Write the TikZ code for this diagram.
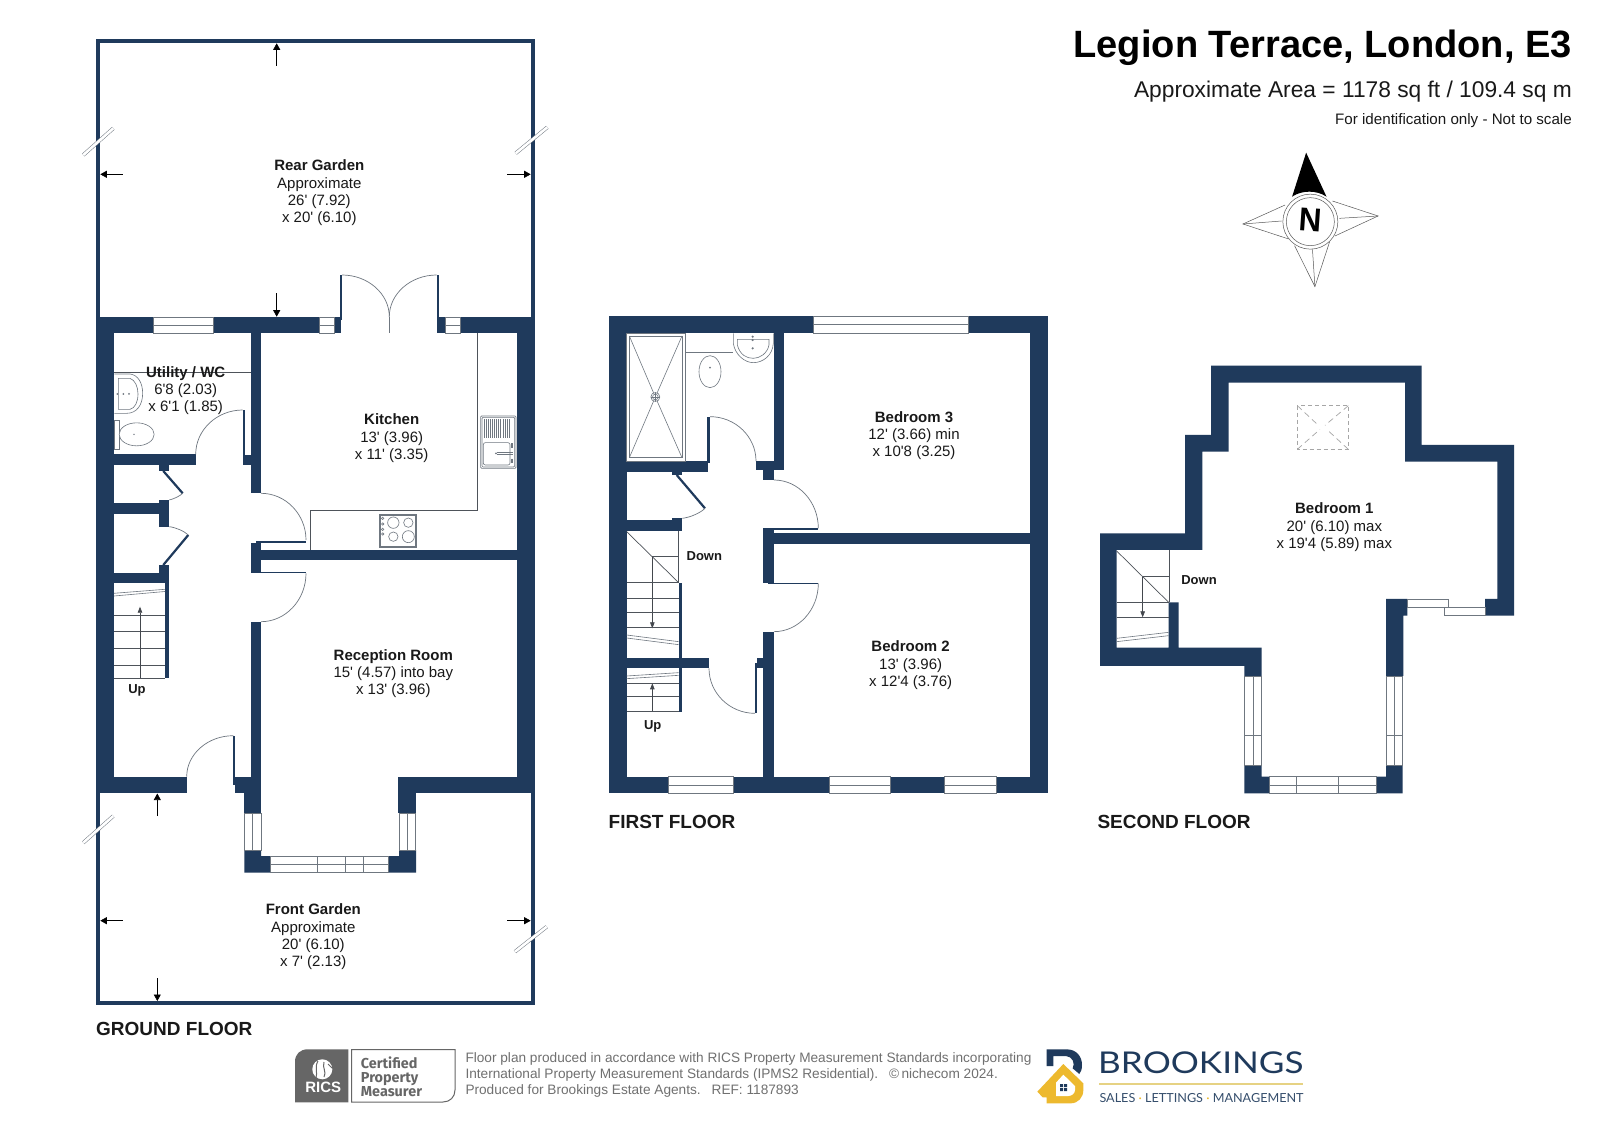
\documentclass[tikz,border=0pt]{standalone}
\usepackage{fontspec}
\setmainfont[Ligatures=TeXOff]{Liberation Sans}
\newfontfamily\ficsfont{Fira Sans}
\newfontfamily\brandfont{Lato}
\usetikzlibrary{calc,arrows.meta}
\definecolor{navy}{HTML}{1F3A5C}
\definecolor{fixgrey}{HTML}{6F7780}
\definecolor{gold}{HTML}{EDB92E}
\definecolor{paleg}{HTML}{E6D283}
\definecolor{footg}{HTML}{707070}
\definecolor{ricsg}{HTML}{666666}
\tikzset{
 wall/.style={fill=navy,draw=none},
 winframe/.style={fill=white,draw=fixgrey,line width=.7pt},
 winline/.style={draw=fixgrey,line width=.7pt},
 doorarc/.style={draw=fixgrey,line width=.7pt},
 fixture/.style={draw=fixgrey,line width=.6pt},
 thinline/.style={draw=fixgrey!70!black,line width=.7pt},
 leafthick/.style={draw=navy,line width=2.2pt},
 gardenwall/.style={draw=navy,line width=4pt,line join=miter},
 breakmark/.style={draw=fixgrey,double=white,double distance=2.6pt,line width=.5pt},
 dimarrow/.style={draw=black,line width=.6pt,-{Triangle[length=6.5pt,width=7pt]}},
 stairarrow/.style={draw=fixgrey!60!black,line width=.7pt,-{Triangle[length=6pt,width=4.5pt]}},
 roomlabel/.style={align=center,inner sep=0pt,yshift=-1.2pt,text=black!90,font=\fontsize{15}{17.3}\selectfont},
 updown/.style={inner sep=0pt,yshift=-.5pt,text=black!90,font=\fontsize{13}{15}\selectfont\bfseries},
 floorlabel/.style={inner sep=0pt,anchor=west,text=black!90,font=\fontsize{19}{22}\selectfont\bfseries},
}
\newcommand{\qdoor}[3]{\draw[doorarc] (#1) .. controls ($(#1)!.55!(#3)$) and ($(#2)!.55!(#3)$) .. (#2);}
\newcommand{\wrect}[2]{\fill[wall] (#1) rectangle (#2);}
\begin{document}
\begin{tikzpicture}[x=1pt,y=-1pt]
\useasboundingbox (0,0) rectangle (1599,1131);
\fill[white] (0,0) rectangle (1599,1131);

% ===== GROUND FLOOR =====
\draw[gardenwall] (98,317) -- (98,41.3) -- (532.7,41.3) -- (532.7,317);
\draw[gardenwall] (98,793) -- (98,1003) -- (532.7,1003) -- (532.7,793);
\draw[breakmark] (83.3,155) -- (113.3,128.3);
\draw[breakmark] (515.7,153.3) -- (547.3,127.3);
\draw[breakmark] (83.3,842.7) -- (113.3,816);
\draw[breakmark] (515,951.7) -- (546.7,926.7);
\wrect{96,316.7}{153.3,333.3}
\wrect{213.3,316.7}{319,333.3}
\wrect{334,316.7}{340.7,333.3}
\wrect{437.3,316.7}{445,333.3}
\wrect{460,316.7}{534.7,333.3}
\wrect{96,333}{114,793.3}
\wrect{96,776.7}{186.7,793.3}
\wrect{516.7,333}{534.7,793.3}
\wrect{398.3,776.7}{534.7,793.3}
\wrect{398.3,793}{416,813.3}
\wrect{251,333}{261,493.3}
\wrect{114,454.3}{195.7,465}
\wrect{243,455}{251,465}
\wrect{242.7,410}{245,460}
\wrect{159,465}{169.3,471}
\wrect{114,503.3}{169.3,514.3}
\wrect{159,500}{169.3,526.7}
\wrect{159,565}{169.3,583.3}
\wrect{114,572.7}{169.3,583.3}
\wrect{165,583}{169.3,678.3}
\draw[leafthick] (163.3,471) -- (182.7,493.3);
\draw[leafthick] (188.3,535) -- (163.3,565);
\qdoor{182.7,493.3}{169.3,500}{178,498}
\qdoor{188.3,535}{169.3,526.7}{181,528}
\qdoor{195.7,454.3}{242.7,410}{195.7,410}
\wrect{251,542.7}{261,573.3}
\wrect{251,550}{516.7,560}
\wrect{256,540.7}{306,542.7}
\wrect{261,572}{306,573.3}
\qdoor{261,493.3}{306,540}{306,493.3}
\qdoor{306,573.3}{261,621.7}{306,621.7}
\wrect{251,621.7}{261,793.3}
\wrect{235,776.7}{261,793.3}
\wrect{244.3,793}{261,813.3}
\wrect{233.3,735.7}{235.3,785}
\qdoor{186.7,776.7}{233.3,735.7}{186.7,735.7}
% French doors
\wrect{340,275}{342,320}
\wrect{436.7,275}{438.7,320}
\qdoor{342,275}{389.3,316.7}{389.3,275}
\qdoor{436.7,275}{389.3,316.7}{389.3,275}
\draw[doorarc] (389.3,316.7) -- (389.3,333);
% bay
\fill[wall] (244.3,850) -- (261,850) -- (261,856) -- (270,856) -- (270,872.7) -- (244.3,872.7) -- cycle;
\fill[wall] (416,850) -- (399,850) -- (399,856) -- (388.3,856) -- (388.3,872.7) -- (416,872.7) -- cycle;
% windows
\draw[winframe] (153.3,317) rectangle (213.3,333);
\draw[winline] (153.3,325) -- (213.3,325);
\draw[winframe] (319,317) rectangle (334,333);
\draw[winline] (319,325) -- (334,325);
\draw[winframe] (445,317) rectangle (460,333);
\draw[winline] (445,325) -- (460,325);
\draw[winframe] (244.3,813.3) rectangle (261,850);
\draw[winline] (252.7,813.3) -- (252.7,850);
\draw[winframe] (399.3,813.3) rectangle (415.3,850);
\draw[winline] (407.7,813.3) -- (407.7,850);
\draw[winframe] (270,856) rectangle (388.3,872.7);
\draw[winline] (270,864.7) -- (388.3,864.7);
\foreach \vx in {317.3,345.7,363.3} {\draw[winline] (\vx,856) -- (\vx,872.7);}
% stairs
\foreach \ty in {615,631.7,648.3,665,678.3} {\draw[thinline] (114,\ty) -- (165,\ty);}
\draw[stairarrow] (140,678.3) -- (140,606.7);
\draw[fixture] (114,593.3) -- (165,589.3);
\draw[fixture] (114,596) -- (165,591.5);
% dimension arrows
\draw[dimarrow] (276.7,66) -- (276.7,43.3);
\draw[dimarrow] (276.7,293.3) -- (276.7,316.7);
\draw[dimarrow] (122.7,174.3) -- (100.3,174.3);
\draw[dimarrow] (507.3,174.3) -- (530.7,174.3);
\draw[dimarrow] (157.3,816) -- (157.3,793.5);
\draw[dimarrow] (157.3,978) -- (157.3,1001);
\draw[dimarrow] (122.7,920.7) -- (100.3,920.7);
\draw[dimarrow] (507.3,920.7) -- (530.7,920.7);
% kitchen units
\draw[thinline] (477.3,333) -- (477.3,510.7) -- (310.7,510.7) -- (310.7,550);
\draw[thinline] (114,372.3) -- (251,372.3);
\begin{scope}[x=.33333pt,y=-.33333pt,shift={(80pt,-300pt)}]
 % utility basin
 \draw[fixture,fill=white] (103,222) -- (150,222) .. controls (175,225) and (188,250) .. (188,280) .. controls (188,315) and (170,340) .. (140,340) -- (103,340);
 \draw[fixture] (115,235) -- (150,235) .. controls (165,240) and (174,260) .. (174,282) .. controls (174,305) and (165,325) .. (150,328) -- (115,328) -- cycle;
 \foreach \dx in {112,130,147} {\fill[fixgrey] (\dx,282) circle[radius=1pt];}
 % WC
 \draw[fixture,fill=white] (103,362) rectangle (118,447);
 \draw[fixture,fill=white] (170,403) ellipse[x radius=17.5pt,y radius=11.5pt];
 \fill[fixgrey] (162,403) circle[radius=.8pt];
 % sink
 \draw[fixture,rounded corners=1pt] (1202,348) rectangle (1308,505);
 \draw[fixture,rounded corners=1pt] (1206,352) rectangle (1304,501);
 \foreach \hx in {1212,1218,1224,1230,1237,1243,1250,1256,1262,1269,1276,1282,1288} {\draw[fixture] (\hx,358) -- (\hx,415);}
 \draw[fixture,rounded corners=2pt] (1210,428) rectangle (1290,495);
 \draw[fixture] (1250,458) -- (1298,458) (1250,464) -- (1298,464);
 \fill[fixgrey] (1248,460) circle[radius=1pt];
 \draw[fixture] (1293,430) -- (1293,445) (1296,430) -- (1296,445) (1293,476) -- (1293,490) (1296,476) -- (1296,490);
 % hob
 \draw[fixture] (898,643) rectangle (1010,742);
 \draw[fixture] (902,647) rectangle (1006,738);
 \draw[fixture] (940,668) circle[radius=5.7pt];
 \draw[fixture] (985,668) circle[radius=4.7pt];
 \draw[fixture] (940,710) circle[radius=4.7pt];
 \draw[fixture] (985,710) circle[radius=6pt];
 \foreach \ky in {655,672,688,702} {\draw[fixture] (908,\ky) circle[radius=1.2pt];}
\end{scope}
% labels
\node[roomlabel] (rear) at (319.3,191.7) {\textbf{Rear Garden}\\Approximate\\26' (7.92)\\x 20' (6.10)};
\node[roomlabel] (util) at (185.7,389.5) {\textbf{Utility / WC}\\6'8 (2.03)\\x 6'1 (1.85)};
\node[roomlabel] (kit) at (391.7,437) {\textbf{Kitchen}\\13' (3.96)\\x 11' (3.35)};
\node[roomlabel] (recep) at (393.3,672.3) {\textbf{Reception Room}\\15' (4.57) into bay\\x 13' (3.96)};
\node[roomlabel] (front) at (313.3,935.7) {\textbf{Front Garden}\\Approximate\\20' (6.10)\\x 7' (2.13)};
\node[updown] (upg) at (137,690) {Up};
\node[floorlabel] (gf) at (96,1029) {GROUND FLOOR};

% ===== FIRST FLOOR =====
\begin{scope}[x=.33333pt,y=-.33333pt,shift={(600pt,-300pt)}]
 \wrect{28,48}{1343,100}
 \wrect{28,1430}{1343,1480}
 \wrect{28,48}{80,1480}
 \wrect{1291,48}{1343,1480}
 \wrect{522,100}{553,510}
 \wrect{468,483}{553,510}
 \wrect{490,483}{522,540}
 \wrect{80,483}{323,515}
 \wrect{320,350}{330,490}
 \wrect{215,510}{247,525}
 \wrect{80,660}{247,692}
 \wrect{215,655}{247,692}
 \wrect{490,685}{522,850}
 \wrect{505,683}{655,690}
 \wrect{522,700}{1291,732}
 \wrect{505,848}{655,853}
 \wrect{490,995}{522,1430}
 \wrect{470,1075}{522,1105}
 \wrect{465,1090}{472,1240}
 \wrect{80,1075}{327,1105}
 \wrect{236,848}{247,1235}
 \draw[leafthick] (230,525) -- (315,625);
 \qdoor{315,625}{247,655}{290,650}
 \qdoor{330,350}{468,483}{468,350}
 \qdoor{522,540}{655,685}{655,540}
 \qdoor{655,850}{522,995}{655,995}
 \qdoor{327,1105}{465,1240}{327,1240}
 % bathroom fittings
 \draw[fixture] (80,100) rectangle (255,483);
 \draw[fixture] (88,108) rectangle (246,473);
 \draw[fixture] (88,108) -- (166,291) -- (246,108);
 \draw[fixture] (88,473) -- (166,291) -- (246,473);
 \draw[fixture,fill=white] (166,291) circle[radius=4.5pt];
 \draw[fixture] (166,291) circle[radius=2.8pt];
 \draw[fixture] (153,291) -- (179,291) (166,278) -- (166,304);
 \draw[fixture] (257,158) -- (400,158);
 \draw[fixture,fill=white] (330,215) ellipse[x radius=11pt,y radius=16pt];
 \fill[fixgrey] (330,203) circle[radius=1pt];
 \draw[fixture,fill=white] (400,100) -- (400,130) .. controls (405,165) and (435,188) .. (460,188) .. controls (490,188) and (518,165) .. (520,130) -- (520,100);
 \draw[fixture] (412,118) -- (412,135) .. controls (420,165) and (440,175) .. (460,175) .. controls (480,175) and (502,160) .. (507,135) -- (507,118) -- cycle;
 \foreach \ty in {110,120,145} {\fill[fixgrey] (458,\ty) circle[radius=1.2pt];}
 % stairs
 \draw[thinline] (236,692) -- (236,848);
 \draw[thinline] (80,695) -- (236,848);
 \draw[thinline] (157,770) -- (236,770);
 \draw[stairarrow] (157,770) -- (157,985);
 \foreach \ty in {848,895,938,982} {\draw[thinline] (80,\ty) -- (236,\ty);}
 \draw[fixture] (80,1005) -- (236,1025);
 \draw[fixture] (80,1014) -- (236,1034);
 \draw[fixture] (80,1128) -- (236,1118);
 \draw[fixture] (80,1136) -- (236,1126);
 \foreach \ty in {1150,1190,1233} {\draw[thinline] (80,\ty) -- (236,\ty);}
 \draw[stairarrow] (157,1233) -- (157,1150);
 % windows
 \draw[winframe] (640,48) rectangle (1106,100);
 \draw[winline] (640,74) -- (1106,74);
 \draw[winframe] (205,1430) rectangle (400,1480);
 \draw[winline] (205,1455) -- (400,1455);
 \draw[winframe] (687,1430) rectangle (870,1480);
 \draw[winline] (687,1455) -- (870,1455);
 \draw[winframe] (1034,1430) rectangle (1190,1480);
 \draw[winline] (1034,1455) -- (1190,1455);
 % labels
 \node[roomlabel] (bed3) at (942,403) {\textbf{Bedroom 3}\\12' (3.66) min\\x 10'8 (3.25)};
 \node[roomlabel] (bed2) at (932,1092) {\textbf{Bedroom 2}\\13' (3.96)\\x 12'4 (3.76)};
 \node[updown] (down1) at (313,768) {Down};
 \node[updown] (up1) at (158,1277) {Up};
\end{scope}
\node[floorlabel] (ff) at (608.5,822) {FIRST FLOOR};

% ===== SECOND FLOOR =====
\begin{scope}[x=.33333pt,y=-.33333pt,shift={(1090pt,-350pt)}]
 \fill[wall] (363,47) -- (995,47) -- (995,285) -- (1272,285) -- (1272,797) -- (1185,797) -- (1185,747) -- (1222,747) -- (1222,335) -- (945,335) -- (945,98) -- (416,98) -- (416,305) -- (337,305) -- (337,600) -- (80,600) -- (80,893) -- (236,893) -- (236,757) -- (266,757) -- (266,893) -- (515,893) -- (515,978) -- (463,978) -- (463,948) -- (30,948) -- (30,550) -- (285,550) -- (285,255) -- (363,255) -- cycle;
 \fill[wall] (888,747) -- (952,747) -- (952,797) -- (940,797) -- (940,978) -- (888,978) -- cycle;
 \fill[wall] (463,1245) -- (515,1245) -- (515,1280) -- (537,1280) -- (537,1330) -- (463,1330) -- cycle;
 \fill[wall] (888,1245) -- (938,1245) -- (938,1330) -- (860,1330) -- (860,1280) -- (888,1280) -- cycle;
 \draw[winframe] (463,978) rectangle (515,1245);
 \draw[winline] (489,978) -- (489,1245) (463,1155) -- (515,1155);
 \draw[winframe] (888,978) rectangle (938,1245);
 \draw[winline] (913,978) -- (913,1245) (888,1155) -- (938,1155);
 \draw[winframe] (537,1280) rectangle (860,1330);
 \draw[winline] (537,1305) -- (860,1305) (620,1280) -- (620,1330) (744,1280) -- (744,1330);
 \draw[winframe] (952,747) rectangle (1075,773);
 \draw[winframe] (1063,773) rectangle (1185,797);
 % skylight
 \draw[draw=gray!70,line width=.8pt,dash pattern=on 4pt off 3pt] (622,167) rectangle (775,298);
 \draw[draw=gray!70,line width=.7pt,dash pattern=on 6pt off 4pt] (622,167) -- (685,226);
 \draw[draw=gray!70,line width=.7pt,dash pattern=on 6pt off 4pt] (775,298) -- (710,238);
 \draw[draw=gray!70,line width=.7pt,dash pattern=on 6pt off 4pt] (775,167) -- (705,226);
 \draw[draw=gray!70,line width=.7pt,dash pattern=on 6pt off 4pt] (622,298) -- (690,238);
 % stairs
 \draw[thinline] (238,600) -- (238,757);
 \draw[thinline] (80,603) -- (236,757);
 \draw[thinline] (158,680) -- (238,680);
 \draw[stairarrow] (158,680) -- (158,802);
 \foreach \ty in {757,802} {\draw[thinline] (80,\ty) -- (236,\ty);}
 \draw[fixture] (80,865) -- (236,847);
 \draw[fixture] (80,875) -- (236,857);
 % labels
 \node[roomlabel] (bed1) at (733,528) {\textbf{Bedroom 1}\\20' (6.10) max\\x 19'4 (5.89) max};
 \node[updown] (down2) at (327,690) {Down};
\end{scope}
\node[floorlabel] (sf) at (1097.3,821.7) {SECOND FLOOR};

% ===== TITLE =====
\node[inner sep=0pt,anchor=east,text=black,font=\fontsize{38.05}{42}\selectfont\bfseries] (title) at (1572,48) {Legion Terrace, London, E3};
\node[inner sep=0pt,anchor=east,text=black!90,font=\fontsize{22.75}{25}\selectfont] (area) at (1572,92) {Approximate Area = 1178 sq ft / 109.4 sq m};
\node[inner sep=0pt,anchor=east,text=black!90,font=\fontsize{15.15}{18}\selectfont] (idonly) at (1572,121) {For identification only - Not to scale};

% ===== COMPASS =====
\begin{scope}[x=.35088pt,y=-.33333pt,shift={(1050pt,0pt)}]
 \tikzset{cmp/.style={draw=black!65,line width=.5pt}}
 \draw[cmp,fill=white] (805,603) -- (935,648) -- (812,708);
 \draw[cmp] (825,655) -- (935,648);
 \draw[cmp,fill=white] (670,615) -- (550,672) -- (680,717);
 \draw[cmp] (660,663) -- (550,672);
 \draw[cmp,fill=white] (697,737) -- (755,860) -- (797,725);
 \draw[cmp] (748,748) -- (755,860);
 \fill[black] (730,458) -- (788,590) .. controls (760,570) and (718,570) .. (690,590) -- cycle;
 \draw[cmp,fill=white] (742,665) circle[radius=27.5pt];
 \draw[cmp] (742,665) circle[radius=24pt];
 \node[inner sep=0pt,rotate=-4,xscale=.95,text=black,font=\fontsize{33}{36}\selectfont\bfseries] (north) at (743,660) {N};
\end{scope}

% ===== FOOTER =====
\fill[ricsg] (295,1102.3) -- (295,1062) .. controls (295,1054) and (300,1049.3) .. (308,1049.3) -- (348.3,1049.3) -- (348.3,1102.3) -- cycle;
\draw[ricsg,line width=1pt] (351.7,1049.5) -- (455,1049.5) -- (455,1090) .. controls (455,1097) and (450,1102) .. (443,1102) -- (351.7,1102) -- cycle;
\fill[white] (322.3,1069.3) circle[radius=10pt];
\draw[ricsg,line width=1pt] (318,1061) .. controls (314,1068) and (318,1072) .. (316,1078);
\draw[ricsg,line width=1pt] (324,1062) .. controls (322,1068) and (327,1072) .. (324,1077);
\draw[ricsg,line width=.8pt] (328,1064) -- (332,1068);
\node[inner sep=0pt,text=white,font=\fontsize{15}{17}\selectfont\bfseries] (rics) at (323.3,1087.7) {RICS};
\node[inner sep=0pt,anchor=west,align=left,text=ricsg,font=\ficsfont\fontsize{14.4}{14.4}\selectfont\bfseries] (cert) at (360.7,1076.7) {Certified\\Property\\Measurer};
\node[inner sep=0pt,anchor=west,align=left,text=footg,font=\fontsize{13.65}{16.35}\selectfont] (foot) at (465.3,1075.1) {Floor plan produced in accordance with RICS Property Measurement Standards incorporating\\International Property Measurement Standards (IPMS2 Residential).\hspace{11pt}©\,nichecom 2024.\\Produced for Brookings Estate Agents.\hspace{11pt}REF:\ 1187893};
% Brookings logo
\begin{scope}[x=.33333pt,y=-.33333pt,shift={(1030pt,-1040pt)}]
 \fill[navy] (50,28) -- (110,28) .. controls (140,28) and (156,50) .. (156,75) .. controls (156,88) and (153,95) .. (148,102) -- (128,85) .. controls (136,70) and (128,50) .. (108,48) -- (70,48) -- (70,78) -- (50,78) -- cycle;
 \fill[gold] (22,155) -- (100,72) -- (160,130) -- (160,150) .. controls (160,172) and (145,190) .. (122,190) -- (50,190) -- (50,172) -- (38,172) -- cycle;
 \fill[white] (78,128) -- (100,104) -- (135,138) -- (135,150) .. controls (135,160) and (125,168) .. (115,168) -- (78,168) -- cycle;
 \fill[navy] (90,132) rectangle (99,141) (102,132) rectangle (111,141) (90,144) rectangle (99,153) (102,144) rectangle (111,153);
\end{scope}
\node[inner sep=0pt,anchor=west,text=navy,xscale=1.17,font=\brandfont\fontsize{30}{32}\selectfont] (brand) at (1098,1062.5) {BROOKINGS};
\draw[paleg,line width=2pt] (1099.3,1084.3) -- (1303,1084.3);
\node[inner sep=0pt,anchor=west,text=navy!90,xscale=1.01,font=\brandfont\fontsize{12.5}{14}\selectfont] (tag) at (1099.3,1097.7) {SALES {\color{gold}·} LETTINGS {\color{gold}·} MANAGEMENT};
\end{tikzpicture}
\end{document}
